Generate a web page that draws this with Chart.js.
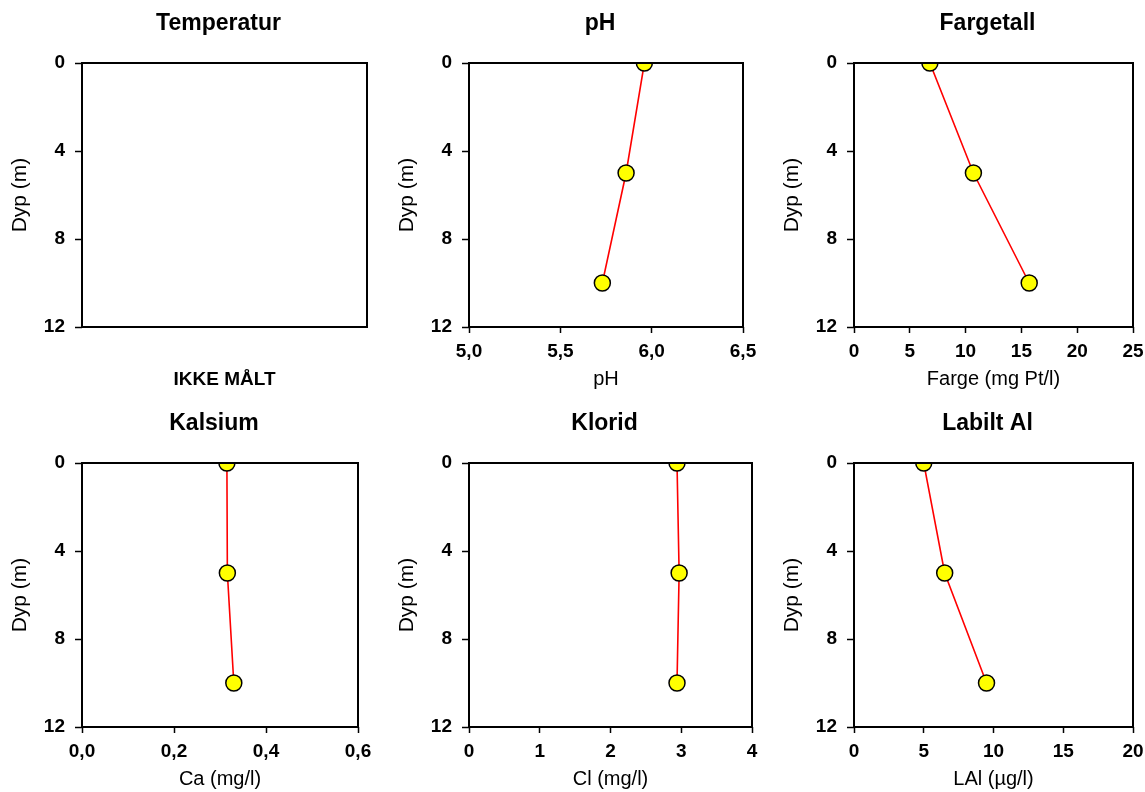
<!DOCTYPE html>
<html>
<head>
<meta charset="utf-8">
<script src="https://cdn.jsdelivr.net/npm/chart.js@4"></script>
<style>
  html, body { margin: 0; padding: 0; background: #fff; overflow: hidden; }
  body { position: relative; width: 1145px; height: 792px; }
  .panel { position: absolute; }
</style>
</head>
<body>
<div id="charts"></div>
<script>
// --- Data ---
const depths = [0, 5, 10];
const tempValues = [];                 // not measured
const phValues = [5.96, 5.86, 5.73];
const colourValues = [6.8, 10.7, 15.7];
const caValues = [0.315, 0.316, 0.33];
const clValues = [2.94, 2.97, 2.94];
const lalValues = [5.0, 6.5, 9.5];

const depthTicks = [0, 4, 8, 12];
const phTicks = [5.0, 5.5, 6.0, 6.5];
const colourTicks = [0, 5, 10, 15, 20, 25];
const caTicks = [0.0, 0.2, 0.4, 0.6];
const clTicks = [0, 1, 2, 3, 4];
const lalTicks = [0, 5, 10, 15, 20];

// --- Panels: chart area box in page pixels ---
const panels = [
    { title: 'Temperatur', xTitle: 'IKKE MÅLT', xBold: true, values: tempValues, ticks: null, decimals: 0, box: [82, 63, 367, 327] },
    { title: 'pH', xTitle: 'pH', values: phValues, ticks: phTicks, decimals: 1, box: [469, 63, 743, 327] },
    { title: 'Fargetall', xTitle: 'Farge (mg Pt/l)', values: colourValues, ticks: colourTicks, decimals: 0, box: [854, 63, 1133, 327] },
    { title: 'Kalsium', xTitle: 'Ca (mg/l)', values: caValues, ticks: caTicks, decimals: 1, box: [82, 463, 358, 727] },
    { title: 'Klorid', xTitle: 'Cl (mg/l)', values: clValues, ticks: clTicks, decimals: 0, box: [469, 463, 752, 727] },
    { title: 'Labilt Al', xTitle: 'LAl (µg/l)', values: lalValues, ticks: lalTicks, decimals: 0, box: [854, 463, 1133, 727] }
];

Chart.defaults.font.family = '"Liberation Sans", Arial, sans-serif';
Chart.defaults.color = '#000';

const LEFT = 89, RIGHT = 22, TOP = 63, HEIGHT = 400;

// Draws the black frame round the plot area
const framePlugin = {
    id: 'frame',
    afterLayout(chart) {
        // titles sit a little left of the plot centre in the original
        chart.titleBlock.left -= 6;
        chart.titleBlock.right -= 6;
    },
    afterDraw(chart) {
        const { ctx, chartArea: a } = chart;
        ctx.save();
        ctx.strokeStyle = '#000';
        ctx.lineWidth = 2;
        ctx.strokeRect(a.left, a.top, a.right - a.left, a.bottom - a.top);
        ctx.restore();
    }
};

const host = document.getElementById('charts');

panels.forEach(p => {
    const [l, t, r, b] = p.box;
    const w = (r - l) + LEFT + RIGHT;

    const div = document.createElement('div');
    div.className = 'panel';
    div.style.left = (l - LEFT) + 'px';
    div.style.top = (t - TOP) + 'px';
    div.style.width = w + 'px';
    div.style.height = HEIGHT + 'px';
    const canvas = document.createElement('canvas');
    canvas.width = w;
    canvas.height = HEIGHT;
    div.appendChild(canvas);
    host.appendChild(div);

    const points = p.values.map((v, i) => ({ x: v, y: depths[i] }));
    const hasTicks = !!p.ticks;

    new Chart(canvas, {
        type: 'scatter',
        data: {
            datasets: [{
                data: points,
                showLine: true,
                borderColor: '#ff0000',
                borderWidth: 1.6,
                pointRadius: 8,
                pointBackgroundColor: '#ffff00',
                pointBorderColor: '#000',
                pointBorderWidth: 1.5
            }]
        },
        options: {
            responsive: false,
            animation: false,
            events: [],
            layout: { padding: { left: 0, right: RIGHT, top: 0, bottom: 0 } },
            plugins: {
                legend: { display: false },
                tooltip: { enabled: false },
                title: {
                    display: true,
                    text: p.title,
                    fullSize: false,
                    color: '#000',
                    font: { size: 23, weight: 'bold' },
                    padding: { top: 10, bottom: 25.4 }
                }
            },
            scales: {
                x: {
                    type: 'linear',
                    position: 'bottom',
                    min: hasTicks ? p.ticks[0] : 0,
                    max: hasTicks ? p.ticks[p.ticks.length - 1] : 1,
                    afterBuildTicks: s => {
                        if (hasTicks) s.ticks = p.ticks.map(v => ({ value: v }));
                    },
                    ticks: {
                        display: hasTicks,
                        autoSkip: false,
                        maxRotation: 0,
                        padding: 7,
                        color: '#000',
                        font: { size: 19, weight: 'bold' },
                        callback: v => v.toFixed(p.decimals).replace('.', ',')
                    },
                    grid: {
                        display: hasTicks,
                        drawOnChartArea: false,
                        tickLength: 6,
                        tickWidth: 1.5,
                        tickColor: '#000'
                    },
                    border: { display: false },
                    title: {
                        display: true,
                        text: p.xTitle,
                        color: '#000',
                        font: { size: p.xBold ? 19 : 20, weight: p.xBold ? 'bold' : 'normal' },
                        padding: { top: 0, bottom: 9 }
                    },
                    afterFit: s => { s.height = HEIGHT - TOP - (b - t); }
                },
                y: {
                    type: 'linear',
                    reverse: true,
                    min: depthTicks[0],
                    max: depthTicks[depthTicks.length - 1],
                    afterBuildTicks: s => { s.ticks = depthTicks.map(v => ({ value: v })); },
                    ticks: {
                        padding: 10,
                        color: '#000',
                        font: { size: 19, weight: 'bold' }
                    },
                    grid: {
                        drawOnChartArea: false,
                        tickLength: 7,
                        tickWidth: 1.5,
                        tickColor: '#000'
                    },
                    border: { display: false },
                    title: {
                        display: true,
                        text: 'Dyp (m)',
                        color: '#000',
                        font: { size: 21 },
                        padding: { top: 14.4, bottom: 0 }
                    },
                    afterFit: s => { s.width = LEFT; }
                }
            }
        },
        plugins: [framePlugin]
    });
});
</script>
</body>
</html>
